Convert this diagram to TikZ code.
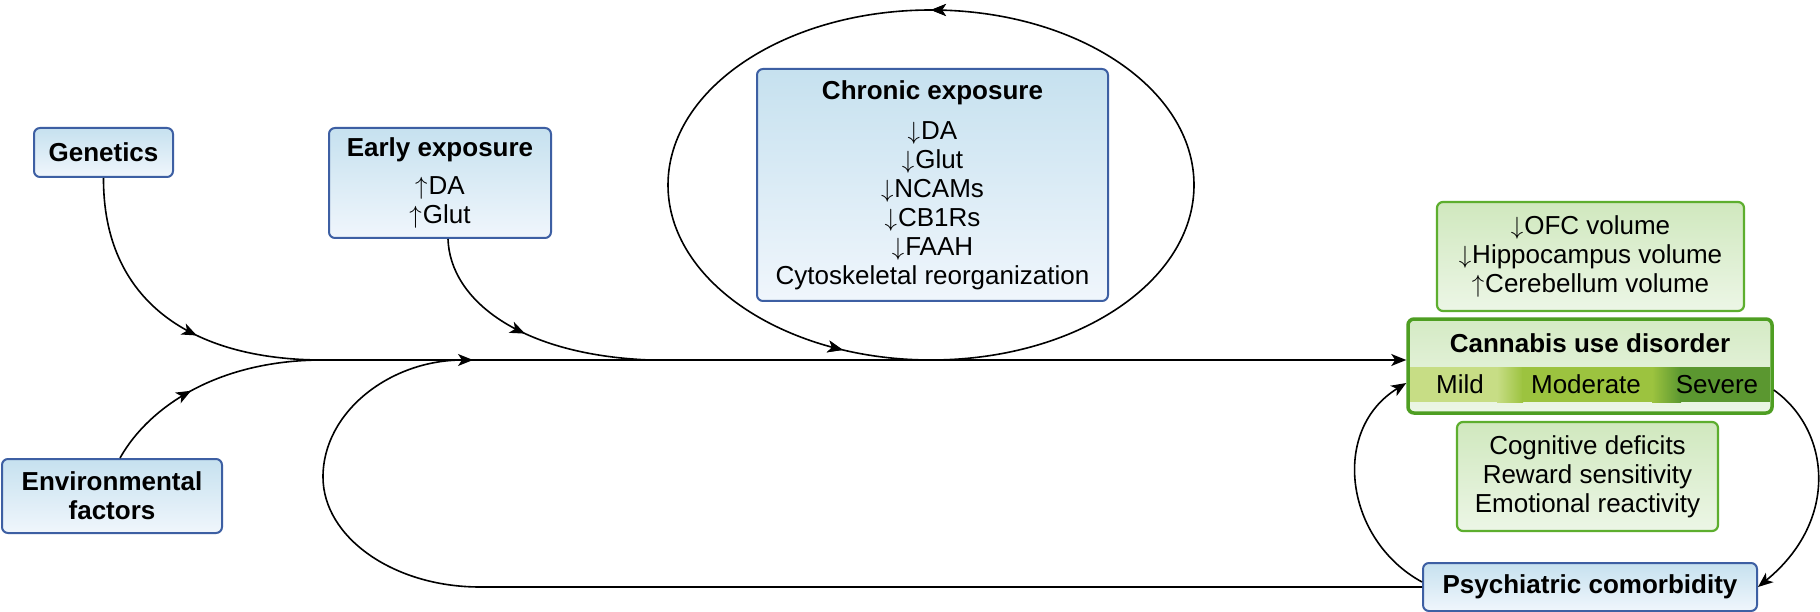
\documentclass[tikz,border=0pt]{standalone}
\usepackage{fontspec}
\setmainfont{Liberation Sans}
\usetikzlibrary{arrows.meta}
\usetikzlibrary{calc}
\usetikzlibrary{decorations.markings}
\definecolor{boxblue}{HTML}{3D5FA3}
\definecolor{blueT}{HTML}{C6E1EF}
\definecolor{blueB}{HTML}{F0F6FC}
\definecolor{boxgreen}{HTML}{5DAE2E}
\definecolor{greenT}{HTML}{D0E8BE}
\definecolor{greenB}{HTML}{ECF6E6}
\definecolor{cudgreen}{HTML}{4E9E22}
\definecolor{mildc}{HTML}{C7DD85}
\definecolor{modc}{HTML}{9CC33F}
\definecolor{sevc}{HTML}{5B9730}
\newcommand{\boxfont}{\fontsize{26}{29}\selectfont}
\newcommand{\up}{$\uparrow$\kern1pt}
\newcommand{\dn}{$\downarrow$\kern1pt}

\tikzset{
  bluebox/.style={draw=boxblue, line width=2pt, rounded corners=6pt, top color=blueT, bottom color=blueB, align=center, inner sep=0pt, font=\boxfont},
  greenbox/.style={draw=boxgreen, line width=2.2pt, rounded corners=6pt, top color=greenT, bottom color=greenB, align=center, inner sep=0pt, font=\boxfont},
  flow/.style={line width=1.6pt, black},
  endtip/.style={-{Stealth[length=15pt,width=12pt,inset=4pt]}},
  arrowat/.style={postaction={decorate}, decoration={markings, mark=at position #1 with {\arrow{Stealth[length=15pt,width=12pt,inset=4pt]}}}},
}

\begin{document}
\begin{tikzpicture}[x=1pt,y=-1pt]
  \useasboundingbox (0,0) rectangle (1820,612);
  \fill[white] (0,0) rectangle (1820,612);

  % ================================================================
  % left side: risk factors
  % ================================================================
  \node[bluebox, minimum width=139pt, minimum height=49pt] (gen) at (103.5,152.5) {\textbf{Genetics}};
  \node[bluebox, minimum width=220pt, minimum height=74pt] (env) at (112,496) {\textbf{Environmental}\\\textbf{factors}};
  \node[bluebox, minimum width=222pt, minimum height=110pt] (early) at (440,183) {\textbf{Early exposure}\\[9pt]\up DA\\\up Glut};
  \node[bluebox, minimum width=351pt, minimum height=232pt] (chronic) at (932.5,185) {\textbf{Chronic exposure}\\[11pt]\dn DA\\\dn Glut\\\dn NCAMs\\\dn CB1Rs\\\dn FAAH\\Cytoskeletal reorganization};

  % merge points on the main line
  \coordinate (m1) at (323,360);
  \coordinate (m2) at (473,360);
  \coordinate (m3) at (650,360);

  % ================================================================
  % right side: disorder
  % ================================================================
  \node[greenbox, minimum width=307pt, minimum height=109pt] (ofc) at (1590.5,256.5) {\dn OFC volume\\\dn Hippocampus volume\\\up Cerebellum volume};
  \node[greenbox, draw=cudgreen, line width=3.5pt, minimum width=364pt, minimum height=94pt, top color=greenT!90!white, bottom color=greenB] (cud) at (1590,366) {};
  % severity band
  \fill[mildc] (1410,367) rectangle (1498,402);
  \shade[left color=mildc, right color=modc] (1497,367) rectangle (1523,402);
  \fill[modc] (1522,367) rectangle (1653,402);
  \shade[left color=modc, right color=sevc] (1652,367) rectangle (1681,402);
  \fill[sevc] (1680,367) rectangle (1770,402);
  \node[font=\boxfont\bfseries] (cudtitle) at (1590,343) {Cannabis use disorder};
  \node[font=\boxfont] (mild) at (1460,384.5) {Mild};
  \node[font=\boxfont] (moderate) at (1586,384.5) {Moderate};
  \node[font=\boxfont] (severe) at (1717,384.5) {Severe};

  \node[greenbox, minimum width=261pt, minimum height=109pt] (cog) at (1587.5,476.5) {Cognitive deficits\\Reward sensitivity\\Emotional reactivity};
  \node[bluebox, minimum width=334pt, minimum height=48pt] (psy) at (1590,587) {\textbf{Psychiatric comorbidity}};

  % ================================================================
  % connectors
  % ================================================================
  \draw[flow, arrowat=0.6] (gen.south) .. controls (103,300) and (190,360) .. (m1);
  \draw[flow, arrowat=0.42] ($(env.north)+(8,0)$) .. controls (150,405) and (220,360) .. (m1);
  \draw[flow, arrowat=0.5] ($(early.south)+(8,0)$) .. controls (450,300) and (520,355) .. (m3);
  \draw[flow, endtip] (m1) -- (m1 -| cud.west);

  % loop round chronic exposure
  \draw[flow, arrowat=0.25, postaction={decorate}, decoration={markings, mark=at position 0.686 with {\arrow{Stealth[length=15pt,width=12pt,inset=4pt]}}}]
    (1194,185) .. controls (1194,88.3) and (1076.3,10) .. (931,10)
    .. controls (785.7,10) and (668,88.3) .. (668,185)
    .. controls (668,281.7) and (785.7,360) .. (931,360)
    .. controls (1076.3,360) and (1194,281.7) .. (1194,185);

  % feedback from comorbidity
  \draw[flow, endtip] (psy.west) -- (480,587) .. controls (393,587) and (323,537) .. (323,477)
    .. controls (323,412) and (390,360) .. (m2);
  \draw[flow, endtip] ($(cud.east)+(0,24)$) .. controls (1830,430) and (1840,520) .. (psy.east);
  \draw[flow, endtip] ($(psy.west)+(0,-5)$) .. controls (1345,540) and (1330,430) .. ($(cud.west)+(0,17)$);

\end{tikzpicture}
\end{document}
